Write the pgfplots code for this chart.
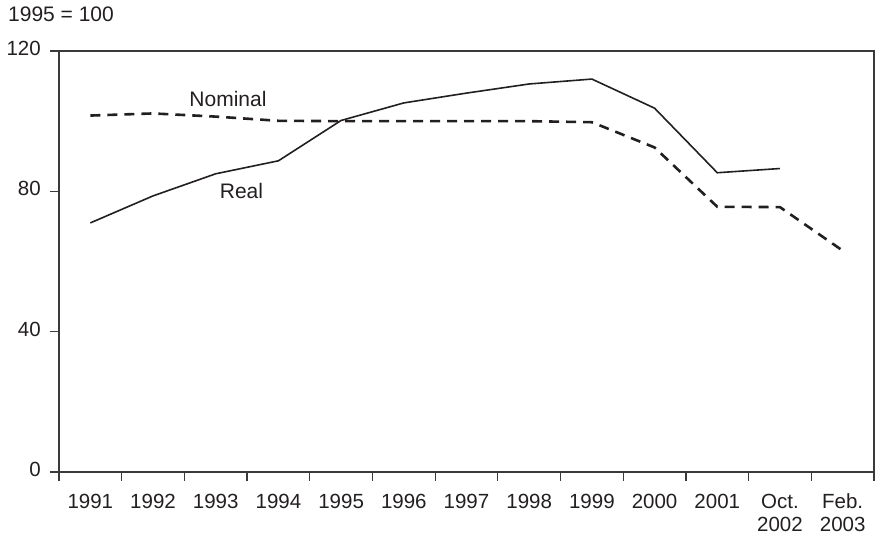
\documentclass[border=0pt]{standalone}
\usepackage{pgfplots}
\pgfplotsset{compat=1.18}
\usepackage{fontspec}
\setmainfont{Liberation Sans}
\definecolor{ink}{HTML}{231F20}
\definecolor{axisgray}{HTML}{3A3A3A}
\begin{document}
\fontsize{21bp}{24bp}\selectfont
\begin{tikzpicture}
\useasboundingbox (-59bp,-62bp) rectangle (816bp,472bp);
\begin{axis}[
  at={(0,0)}, anchor=south west,
  scale only axis,
  width=815bp, height=421bp,
  xmin=-0.5, xmax=12.5,
  ymin=0, ymax=120,
  ytick={0,40,80,120},
  xtick={0,...,12},
  xticklabels={1991,1992,1993,1994,1995,1996,1997,1998,1999,2000,2001,{Oct.\\2002},{Feb.\\2003}},
  minor xtick={-0.5,0.5,...,12.5},
  major x tick style={draw=none},
  xtick pos=bottom, ytick pos=left,
  tick align=outside,
  major tick length=9bp,
  minor tick length=9bp,
  tick style={axisgray, line width=1.2bp},
  axis line style={axisgray, line width=1.2bp},
  typeset ticklabels with strut,
  xticklabel style={align=center, anchor=north, yshift=-4bp, font=\fontsize{20.5bp}{23bp}\selectfont, text=ink},
  yticklabel style={font=\fontsize{20.5bp}{23bp}\selectfont, text=ink, xshift=-2bp},
  /pgf/number format/assume math mode=true,
  clip=false,
]
\addplot[ink, line width=1.6bp] coordinates {
  (0,71.0) (1,78.7) (2,85.0) (3,88.7) (4,100.2) (5,105.2) (6,108.0)
  (7,110.6) (8,112.0) (9,103.7) (10,85.3) (11,86.5)
};
\addplot[ink, line width=2.6bp, dash pattern=on 10bp off 7bp] coordinates {
  (0,101.6) (1,102.2) (2,101.3) (3,100.1) (4,100.0) (5,100.0) (6,100.0)
  (7,100.0) (8,99.7) (9,92.5) (10,75.6) (11,75.5) (12,63.1)
};
\node[text=ink] at (axis cs:2.195,106.3) {Nominal};
\node[text=ink] at (axis cs:2.41,80.2) {Real};
\end{axis}
\node[anchor=base west, text=ink, inner sep=0pt] at (-51bp,450bp) {1995 = 100};
\end{tikzpicture}
\end{document}
